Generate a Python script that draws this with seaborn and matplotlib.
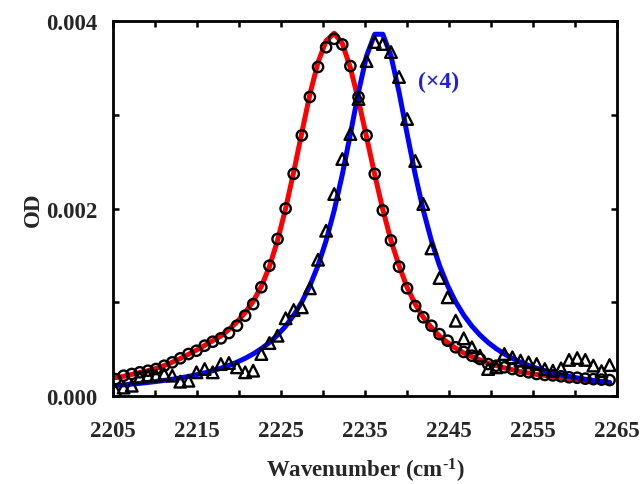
import numpy as np
import pandas as pd
import matplotlib
matplotlib.use("Agg")
import matplotlib.pyplot as plt
from matplotlib.ticker import MultipleLocator, FixedLocator
import seaborn as sns

# Wavenumber grid of the spectra (cm^-1, 0.9643 cm^-1 spacing)
wavenumber = np.round(2205.3 + 0.9643 * np.arange(62), 2)

# Measured OD, band 1 (circles), in units of 1e-4
od_band1 = [1.80, 2.17, 2.35, 2.53, 2.70, 2.88, 3.23, 3.59, 4.02, 4.48,
            4.83, 5.37, 5.79, 6.15, 6.72, 7.50, 8.57, 9.80, 11.6, 13.9,
            16.75, 20.0, 23.7, 27.8, 31.9, 35.1, 37.2, 38.1, 37.5, 35.2,
            31.9, 27.8, 23.7, 19.8, 16.6, 13.8, 11.5, 9.6, 8.4, 7.5,
            6.6, 5.9, 5.2, 4.7, 4.3, 3.95, 3.41, 3.23, 3.06, 2.88,
            2.70, 2.53, 2.35, 2.25, 2.20, 2.10, 2.00, 1.95, 1.85, 1.80,
            1.75, 1.70]

# Fitted profile, band 1 (red line), in units of 1e-4
fit_band1 = [1.95, 2.10, 2.30, 2.50, 2.70, 2.95, 3.25, 3.60, 4.00, 4.45,
             4.90, 5.40, 5.90, 6.40, 7.10, 7.90, 8.90, 10.1, 11.7, 13.8,
             16.6, 20.0, 23.9, 28.1, 32.2, 35.6, 37.9, 38.7, 37.6, 35.0,
             31.5, 27.6, 23.6, 19.9, 16.6, 13.9, 11.6, 9.8, 8.4, 7.3,
             6.4, 5.7, 5.1, 4.6, 4.2, 3.85, 3.50, 3.25, 3.00, 2.80,
             2.60, 2.45, 2.30, 2.20, 2.05, 1.95, 1.85, 1.75, 1.65, 1.60,
             1.50, 1.45]

# Measured OD, band 2 scaled x4 (triangles), in units of 1e-4
od_band2 = [0.57, 0.90, 1.10, 2.00, 2.17, 2.17, 2.35, 2.17, 1.53, 1.63,
            2.53, 2.88, 2.53, 3.41, 3.52, 3.06, 2.53, 2.70, 4.48, 5.65,
            6.43, 8.29, 9.17, 9.46, 11.49, 14.54, 17.63, 21.55, 25.28, 27.95,
            31.68, 35.73, 37.76, 37.55, 36.69, 34.03, 29.55, 25.07, 20.48, 15.75,
            12.59, 10.53, 8.03, 6.15, 5.20, 4.30, 2.88, 3.06, 4.48, 4.13,
            3.77, 3.59, 3.41, 2.88, 2.70, 2.95, 3.85, 4.05, 3.85, 3.25,
            2.65, 3.30]

# Fitted profile, band 2 scaled x4 (blue line), in units of 1e-4
fit_band2 = [1.122, 1.191, 1.269, 1.353, 1.446, 1.549, 1.663, 1.789, 1.931, 2.090,
             2.268, 2.471, 2.701, 2.965, 3.263, 3.612, 4.019, 4.489, 5.051, 5.710,
             6.506, 7.455, 8.608, 10.03, 11.77, 13.93, 16.57, 19.82, 23.63, 27.95,
             32.44, 36.29, 38.59, 38.59, 36.29, 32.44, 27.99, 23.63, 19.82, 16.57,
             13.93, 11.77, 10.03, 8.62, 7.455, 6.506, 5.710, 5.051, 4.489, 4.019,
             3.615, 3.263, 2.965, 2.701, 2.471, 2.268, 2.090, 1.932, 1.789, 1.663,
             1.549, 1.446]

x_ticks = [2205, 2215, 2225, 2235, 2245, 2255, 2265]
y_ticks = [0.000, 0.002, 0.004]

scale = 1e-4
df = pd.DataFrame({
    "wn": wavenumber,
    "od1": np.array(od_band1) * scale,
    "fit1": np.array(fit_band1) * scale,
    "od2": np.array(od_band2) * scale,
    "fit2": np.array(fit_band2) * scale,
})

sns.set_theme(style="ticks")
plt.rcParams["font.family"] = ["Liberation Serif", "DejaVu Serif"]
plt.rcParams["font.weight"] = "bold"
plt.rcParams["mathtext.fontset"] = "custom"
plt.rcParams["mathtext.rm"] = "Liberation Serif:bold"
plt.rcParams["mathtext.it"] = "Liberation Serif:bold"
plt.rcParams["mathtext.bf"] = "Liberation Serif:bold"

fig = plt.figure(figsize=(6.4, 4.85), dpi=100)
ax = fig.add_axes([0.1766, 0.1814, 0.7874, 0.7732])

sns.lineplot(data=df, x="wn", y="fit1", ax=ax, color="#ff0000", lw=3.6,
             sort=False, zorder=2)
sns.lineplot(data=df, x="wn", y="fit2", ax=ax, color="#0000ff", lw=3.6,
             sort=False, zorder=2)
sns.scatterplot(data=df, x="wn", y="od2", ax=ax, marker="^", s=70,
                facecolor="none", edgecolor="black", linewidth=1.7, zorder=3)
sns.scatterplot(data=df, x="wn", y="od1", ax=ax, marker="o", s=55,
                facecolor="none", edgecolor="black", linewidth=1.7, zorder=4)

ax.text(2241.3, 0.00336, "(×4)", color="#1f1fe6", fontsize=17,
        fontweight="bold", ha="left", va="center")

ax.set_xlim(2205, 2265)
ax.set_ylim(0, 0.004)
ax.xaxis.set_major_locator(FixedLocator(x_ticks))
ax.xaxis.set_minor_locator(MultipleLocator(5))
ax.yaxis.set_major_locator(FixedLocator(y_ticks))
ax.yaxis.set_minor_locator(MultipleLocator(0.001))
ax.set_xticklabels([str(t) for t in x_ticks])
ax.set_yticklabels([f"{t:.3f}" for t in y_ticks])

ax.tick_params(which="both", direction="in", top=True, right=True,
               width=1.8, length=4, color="black")
ax.tick_params(axis="x", which="major", pad=17, labelsize=16.5)
ax.tick_params(axis="y", which="major", pad=11, labelsize=16.5)
for lab in ax.get_xticklabels() + ax.get_yticklabels():
    lab.set_fontweight("bold")

for sp in ax.spines.values():
    sp.set_linewidth(2.0)
    sp.set_color("black")

ax.set_xlabel(r"Wavenumber (cm$^{\text{-}1}$)", fontsize=16.5,
              fontweight="bold", labelpad=11)
ax.set_ylabel("OD", fontsize=16.5, fontweight="bold", labelpad=2)
ax.grid(False)

fig.savefig("out.png", dpi=100)
